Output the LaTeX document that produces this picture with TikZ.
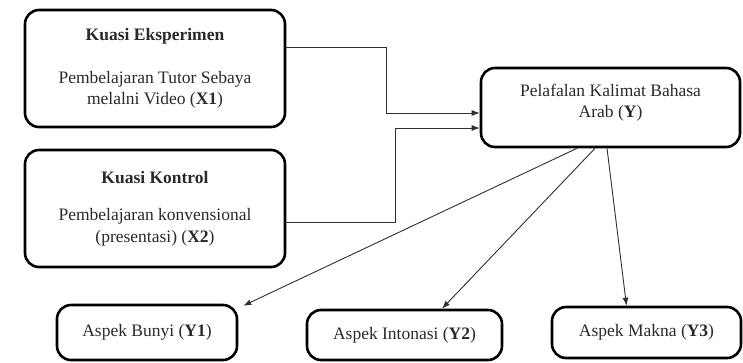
\documentclass[tikz,border=0pt]{standalone}
\usepackage{fontspec}
\setmainfont{Liberation Serif}
\usetikzlibrary{arrows.meta}
\definecolor{txt}{HTML}{2A2A2A}
\definecolor{ln}{HTML}{303030}
\tikzset{
  box/.style={draw=black, line width=2.6pt, rounded corners=14pt, fill=white,
    align=center, text=txt, inner sep=0pt},
  conn/.style={draw=ln, line width=1.1pt},
  arr/.style={draw=ln, line width=0.9pt, -{Latex[length=8pt,width=6pt]}},
  bigfont/.style={font=\fontsize{17.5}{22}\selectfont}
}
\begin{document}
\begin{tikzpicture}[x=1pt,y=-1pt]
\useasboundingbox (0,0) rectangle (743,362);
% boxes
\node[box, bigfont, minimum width=260pt, minimum height=117pt] (X1) at (155,68.5)
  {\textbf{Kuasi Eksperimen}\\[21pt]Pembelajaran Tutor Sebaya\\[-1pt]melalni Video (\textbf{X1})};
\node[box, bigfont, minimum width=260pt, minimum height=117pt] (X2) at (155,208.5)
  {\textbf{Kuasi Kontrol}\\[15pt]Pembelajaran konvensional\\(presentasi) (\textbf{X2})};
\node[box, minimum width=259pt, minimum height=79pt] (Y) at (610.5,107.5) {};
\node[bigfont, align=center, text=txt, inner sep=0pt] (Yt) at ([yshift=5pt]Y.center)
  {Pelafalan Kalimat Bahasa\\[-1pt]Arab (\textbf{Y})};
\node[box, bigfont, minimum width=180pt, minimum height=55pt] (Y1) at (147,332.5)
  {Aspek Bunyi (\textbf{Y1})};
\node[box, bigfont, minimum width=195pt, minimum height=50pt] (Y2) at (404.5,335)
  {Aspek Intonasi (\textbf{Y2})};
\node[box, bigfont, minimum width=189pt, minimum height=51pt] (Y3) at (646.5,332.5)
  {Aspek Makna (\textbf{Y3})};
% connectors
\draw[arr] ([yshift=21.5pt]X1.east) -- ++(100,0) |- ([yshift=-5.5pt]Y.west);
\draw[arr] ([yshift=-13.5pt]X2.east) -- ++(109,0) |- ([yshift=-20.5pt]Y.west);
\draw[arr] ([xshift=-33.5pt]Y.south) -- ([xshift=5pt,yshift=-2pt]Y1.north east);
\draw[arr] ([xshift=-15.5pt]Y.south) -- ([xshift=37.5pt]Y2.north);
\draw[arr] ([xshift=-3.5pt]Y.south) -- ([xshift=-20pt]Y3.north);
\end{tikzpicture}
\end{document}
